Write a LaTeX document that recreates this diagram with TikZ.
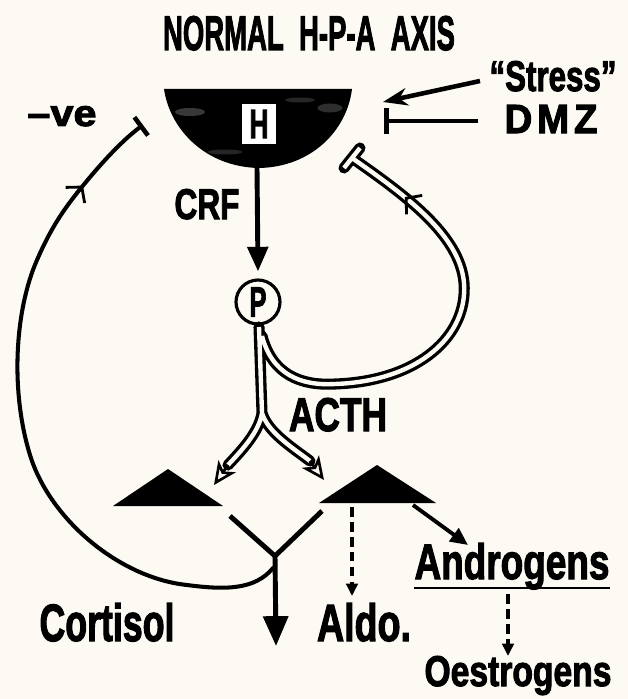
\documentclass[tikz,border=0pt]{standalone}
\usepackage{fontspec}
\usepackage{graphicx}
\newfontfamily\hv{Liberation Sans}[UprightFont={* Bold},FakeBold=2.5]
\usetikzlibrary{arrows.meta,decorations.markings,calc}
\definecolor{paper}{RGB}{252,250,242}
\begin{document}
\begin{tikzpicture}[x=0.02cm,y=-0.02cm,
  lab/.style={inner sep=0pt, anchor=base, font=\hv\fontsize{24pt}{26pt}\selectfont},
  fbline/.style={line width=2.3pt},
  solidarr/.style={line width=2.8pt, -{Triangle[length=14pt,width=11.5pt]}},
  dasharr/.style={line width=1.9pt, dash pattern=on 5.5pt off 3pt, -{Triangle[length=7pt,width=6.5pt]}},
  hollowout/.style={line width=6.3pt, line cap=round, line join=round},
  hollowin/.style={line width=2.5pt, paper, line cap=butt, line join=round},
  hollowtip/.style={line width=1.5pt, -{Stealth[length=13pt,width=12pt,inset=3.5pt,fill=paper]}},
  barbmark/.style={decoration={markings, mark=at position #1 with {\arrow[line width=1.6pt]{Straight Barb[length=6pt,width=14pt]}}}, decorate}
]
\fill[paper] (0,0) rectangle (628,699);
\useasboundingbox (0,0) rectangle (628,699);

% title and side labels
\node[lab] (title) at (309,50) {\resizebox{5.84cm}{0.68cm}{NORMAL\ \ H-P-A\ \ AXIS}};
\node[lab] (stress) at (553,91) {\resizebox{2.54cm}{0.6cm}{“Stress”}};
\node[lab] (dmz) at (551,133) {\resizebox{1.86cm}{0.56cm}{D\hspace{3pt}M\hspace{3pt}Z}};
\node[lab] (neg) at (62,126) {\resizebox{1.38cm}{0.4cm}{–ve}};

% hypothalamus
\coordinate (hypTL) at (164,89);
\coordinate (hypTR) at (352,89);
\fill[black] (hypTL) -- (hypTR) .. controls (347,130) and (312,167) .. (259,168) .. controls (206,167) and (170,130) .. (hypTL) -- cycle;
\fill[white, opacity=0.22] (190,112) ellipse [x radius=0.3cm, y radius=0.08cm];
\fill[white, opacity=0.18] (330,108) ellipse [x radius=0.25cm, y radius=0.09cm];
\fill[white, opacity=0.15] (225,152) ellipse [x radius=0.35cm, y radius=0.05cm];
\fill[white, opacity=0.15] (300,100) ellipse [x radius=0.3cm, y radius=0.05cm];
\node[draw=black, fill=white, line width=1pt, minimum width=0.7cm, minimum height=0.82cm, inner sep=0pt] (H) at (259,124) {\resizebox{0.38cm}{0.56cm}{\hv H}};
\coordinate (hbot) at (257,168);

% stress and DMZ inputs
\coordinate (sTail) at (480,81);
\coordinate (sTip) at (383,102);
\coordinate (dTail) at (478,121);
\coordinate (dEnd) at (384,121);
\draw[line width=2.6pt, -{Stealth[length=14pt,width=10pt]}] (sTail) -- (sTip);
\draw[line width=2.6pt, -{Bar[width=15pt,line width=2.6pt]}] (dTail) -- (dEnd);

% pituitary
\node[circle, draw, line width=1.8pt, fill=paper, minimum size=0.88cm, inner sep=0pt] (P) at (258,302) {\resizebox{0.34cm}{0.58cm}{\hv P}};
\draw[solidarr] (hbot) -- ($(P.north)+(0,-7)$);
\node[lab] (crf) at (207,219) {\resizebox{1.3cm}{0.6cm}{CRF}};

% ACTH hollow paths and right feedback
\coordinate (pb) at (259,327);
\coordinate (split) at (262,413);
\coordinate (lA) at (228,465);
\coordinate (ltip) at (214,485);
\coordinate (rA) at (310,461);
\coordinate (rtip) at (324,480);
\coordinate (fbRs) at (262,336);
\coordinate (fbRb) at (335,384);
\coordinate (fbRr) at (464,283);
\coordinate (fbRe) at (352,158);
\coordinate (barR1) at (360,148);
\coordinate (barR2) at (344,168);
\draw[hollowout] (pb) -- (split) (split) .. controls (259,432) and (242,450) .. (lA)
  (split) .. controls (268,432) and (290,446) .. (rA)
  (fbRs) .. controls (272,374) and (300,386) .. (fbRb) .. controls (420,381) and (468,335) .. (fbRr) .. controls (460,235) and (405,195) .. (fbRe)
  (barR1) -- (barR2);
\draw[hollowin] (pb) -- (split) (split) .. controls (259,432) and (242,450) .. (lA)
  (split) .. controls (268,432) and (290,446) .. (rA)
  (fbRs) .. controls (272,374) and (300,386) .. (fbRb) .. controls (420,381) and (468,335) .. (fbRr) .. controls (460,235) and (405,195) .. (fbRe)
  (barR1) -- (barR2);
\draw[hollowtip] (lA) -- (ltip);
\draw[hollowtip] (rA) -- (rtip);
\path[barbmark=0.62] (fbRr) .. controls (460,235) and (405,195) .. (fbRe);
\node[lab] (acth) at (338,431) {\resizebox{1.96cm}{0.66cm}{ACTH}};

% adrenal glands
\coordinate (adL1) at (113,506);
\coordinate (adL2) at (168,469);
\coordinate (adL3) at (223,506);
\coordinate (adR1) at (319,503);
\coordinate (adR2) at (377,465);
\coordinate (adR3) at (436,503);
\fill (adL1) -- (adL2) -- (adL3) -- cycle;
\fill (adR1) -- (adR2) -- (adR3) -- cycle;

% Y output
\coordinate (yL) at (230,516);
\coordinate (yR) at (322,511);
\coordinate (yj) at (275,556);
\coordinate (ytip) at (276,646);
\draw[line width=2.8pt, line join=miter] (yL) -- (yj) -- (yR);
\draw[line width=2.8pt, -{Triangle[length=17pt,width=14pt]}] (yj) -- (ytip);

% left negative feedback
\coordinate (fbS) at (273,568);
\coordinate (fb1) at (187,585);
\coordinate (fb2) at (30,455);
\coordinate (fb3) at (37,260);
\coordinate (chevL) at (77,193);
\coordinate (tbL) at (143,125);
\draw[fbline, line cap=round] (fbS) .. controls (255,590) and (225,590) .. (fb1) .. controls (120,578) and (50,520) .. (fb2) .. controls (10,390) and (15,310) .. (fb3) .. controls (50,230) and (62,212) .. (chevL);
\draw[fbline, -{Bar[width=13pt,line width=2.6pt]}] (chevL) .. controls (97,168) and (120,142) .. (tbL);
\path[barbmark=0.1] (chevL) .. controls (97,168) and (120,142) .. (tbL);

% products
\coordinate (d1s) at (352,507);
\coordinate (d1e) at (352,596);
\draw[dasharr] (d1s) -- (d1e);
\coordinate (a1s) at (413,505);
\coordinate (a1e) at (468,545);
\draw[line width=2.2pt, -{Triangle[length=10pt,width=9pt]}] (a1s) -- (a1e);
\node[lab] (cort) at (107,641) {\resizebox{2.7cm}{0.76cm}{Cortisol}};
\node[lab] (aldo) at (364,641) {\resizebox{1.88cm}{0.76cm}{Aldo.}};
\node[lab] (andro) at (512,579) {\resizebox{3.9cm}{0.72cm}{Androgens}};
\draw[line width=1.6pt] ($(andro.base west)+(0,9)$) -- ($(andro.base east)+(0,9)$);
\coordinate (d2s) at (508,594);
\draw[dasharr] (d2s) -- ($(d2s)+(0,62)$) coordinate (d2e);
\node[lab] (oest) at (518,686) {\resizebox{3.74cm}{0.6cm}{Oestrogens}};
\end{tikzpicture}
\end{document}
